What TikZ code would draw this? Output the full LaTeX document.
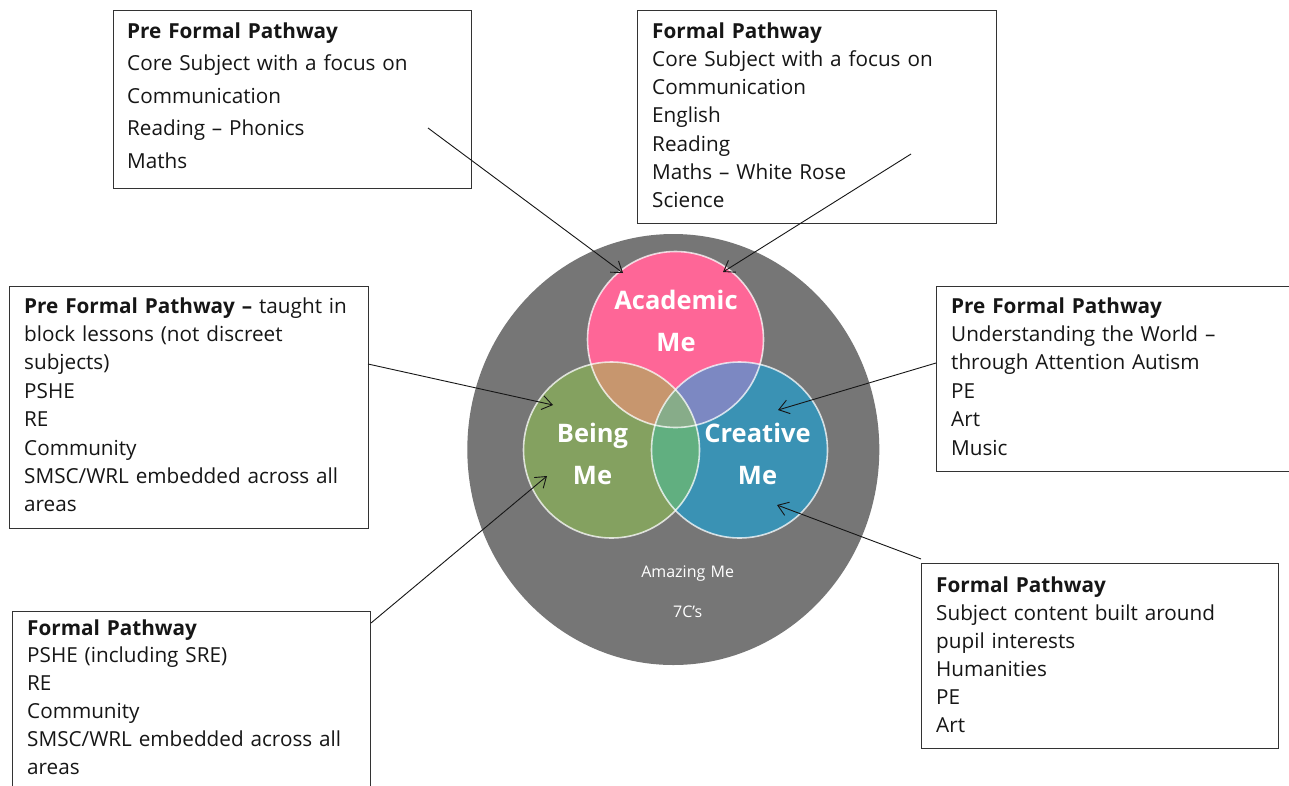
\documentclass[tikz,border=0pt]{standalone}
\usepackage{fontspec}
\setmainfont{Open Sans}
\usetikzlibrary{arrows.meta,shapes.geometric}
\definecolor{ringgray}{HTML}{767676}
\definecolor{acadpink}{HTML}{FE6697}
\definecolor{beinggreen}{HTML}{84A160}
\definecolor{creablue}{HTML}{3A92B4}
\definecolor{abmix}{HTML}{C7966E}
\definecolor{acmix}{HTML}{7C88C2}
\definecolor{bcmix}{HTML}{61AF80}
\definecolor{abcmix}{HTML}{87AC89}
\definecolor{inkcol}{HTML}{161616}
\begin{document}
\begin{tikzpicture}[x=1pt,y=-1pt,
  box/.style={draw=black!80, line width=1pt, fill=white, inner sep=0pt, anchor=north west},
  txt/.style={anchor=base west, inner sep=0pt, text width=345pt, align=left, text=inkcol,
    font=\fontsize{20.7}{28.3}\selectfont},
  conn/.style={draw=inkcol, line width=0.9pt, -{Straight Barb[length=10pt,width=14pt]}},
  venn/.style={circle, minimum size=176pt, inner sep=0pt},
  vlabel/.style={text=white, font=\bfseries\fontsize{25.5}{42}\selectfont, align=center,
    anchor=base, inner sep=0pt, text width=170pt},
  ringlabel/.style={text=white, font=\fontsize{16}{40}\selectfont, align=center,
    anchor=base, inner sep=0pt, text width=150pt},
  rim/.style={draw=white, draw opacity=0.75, line width=1.6pt}
]
\useasboundingbox (0,0) rectangle (1289,785);
\fill[white] (0,0) rectangle (1289,785);

% outer ring
\node[ellipse, minimum width=412pt, minimum height=431pt, inner sep=0pt, fill=ringgray] (ring) at (673.3,449.5) {};
\node[ringlabel] (amz) at (687.7,577.3) {Amazing Me\\7C’s};

% venn circles
\node[venn] (acad) at (675.5,339.5) {};
\node[venn] (being) at (611.5,450) {};
\node[venn] (crea) at (739.5,450) {};
\fill[acadpink] (acad.center) circle[radius=88pt];
\fill[beinggreen] (being.center) circle[radius=88pt];
\fill[creablue] (crea.center) circle[radius=88pt];
\begin{scope}
  \clip (acad.center) circle[radius=88pt];
  \fill[abmix] (being.center) circle[radius=88pt];
  \fill[acmix] (crea.center) circle[radius=88pt];
\end{scope}
\begin{scope}
  \clip (being.center) circle[radius=88pt];
  \fill[bcmix] (crea.center) circle[radius=88pt];
\end{scope}
\begin{scope}
  \clip (acad.center) circle[radius=88pt];
  \clip (being.center) circle[radius=88pt];
  \fill[abcmix] (crea.center) circle[radius=88pt];
\end{scope}
\draw[rim] (acad.center) circle[radius=88pt];
\draw[rim] (being.center) circle[radius=88pt];
\draw[rim] (crea.center) circle[radius=88pt];

\node[vlabel] (acadT) at (676,309) {Academic\\Me};
\node[vlabel] (beingT) at (592.5,442.3) {Being\\Me};
\node[vlabel] (creaT) at (757.5,442.3) {Creative\\Me};

% boxes
\node[box, minimum width=358pt, minimum height=178pt] (b1) at (112.5,9.5) {};
\node[txt, font=\fontsize{20.7}{32.5}\selectfont] (t1) at (127,38) {\textbf{Pre Formal Pathway}\\Core Subject with a focus on\\Communication\\Reading – Phonics\\Maths};

\node[box, minimum width=359pt, minimum height=213pt] (b2) at (637,9.5) {};
\node[txt] (t2) at (652,38) {\textbf{Formal Pathway}\\Core Subject with a focus on\\Communication\\English\\Reading\\Maths – White Rose\\Science};

\node[box, minimum width=359pt, minimum height=242pt] (b3) at (9,285.5) {};
\node[txt, font=\fontsize{20.7}{28.4}\selectfont] (t3) at (24,313) {\textbf{Pre Formal Pathway –} taught in\\block lessons (not discreet\\subjects)\\PSHE\\RE\\Community\\SMSC/WRL embedded across all\\areas};

\node[box, minimum width=365pt, minimum height=185pt] (b4) at (936,285.5) {};
\node[txt, font=\fontsize{20.7}{28.4}\selectfont] (t4) at (951,313) {\textbf{Pre Formal Pathway}\\Understanding the World –\\through Attention Autism\\PE\\Art\\Music};

\node[box, minimum width=358pt, minimum height=200pt] (b5) at (12,611) {};
\node[txt, font=\fontsize{20.7}{27.9}\selectfont] (t5) at (27,635) {\textbf{Formal Pathway}\\PSHE (including SRE)\\RE\\Community\\SMSC/WRL embedded across all\\areas};

\node[box, minimum width=357pt, minimum height=185pt] (b6) at (921,562.5) {};
\node[txt, font=\fontsize{20.7}{28}\selectfont] (t6) at (936,592) {\textbf{Formal Pathway}\\Subject content built around\\pupil interests\\Humanities\\PE\\Art};

% connectors
\coordinate (s1) at (428,128);  \coordinate (e1) at (623,273);
\coordinate (s2) at (911,154);  \coordinate (e2) at (723,272);
\coordinate (s3) at (368,364);  \coordinate (e3) at (553,405);
\coordinate (s4) at (936,363);  \coordinate (e4) at (778,410);
\coordinate (s5) at (371,623);  \coordinate (e5) at (547,476);
\coordinate (s6) at (921,559);  \coordinate (e6) at (777,505);
\draw[conn] (s1) -- (e1);
\draw[conn] (s2) -- (e2);
\draw[conn] (s3) -- (e3);
\draw[conn] (s4) -- (e4);
\draw[conn] (s5) -- (e5);
\draw[conn] (s6) -- (e6);
\end{tikzpicture}
\end{document}
